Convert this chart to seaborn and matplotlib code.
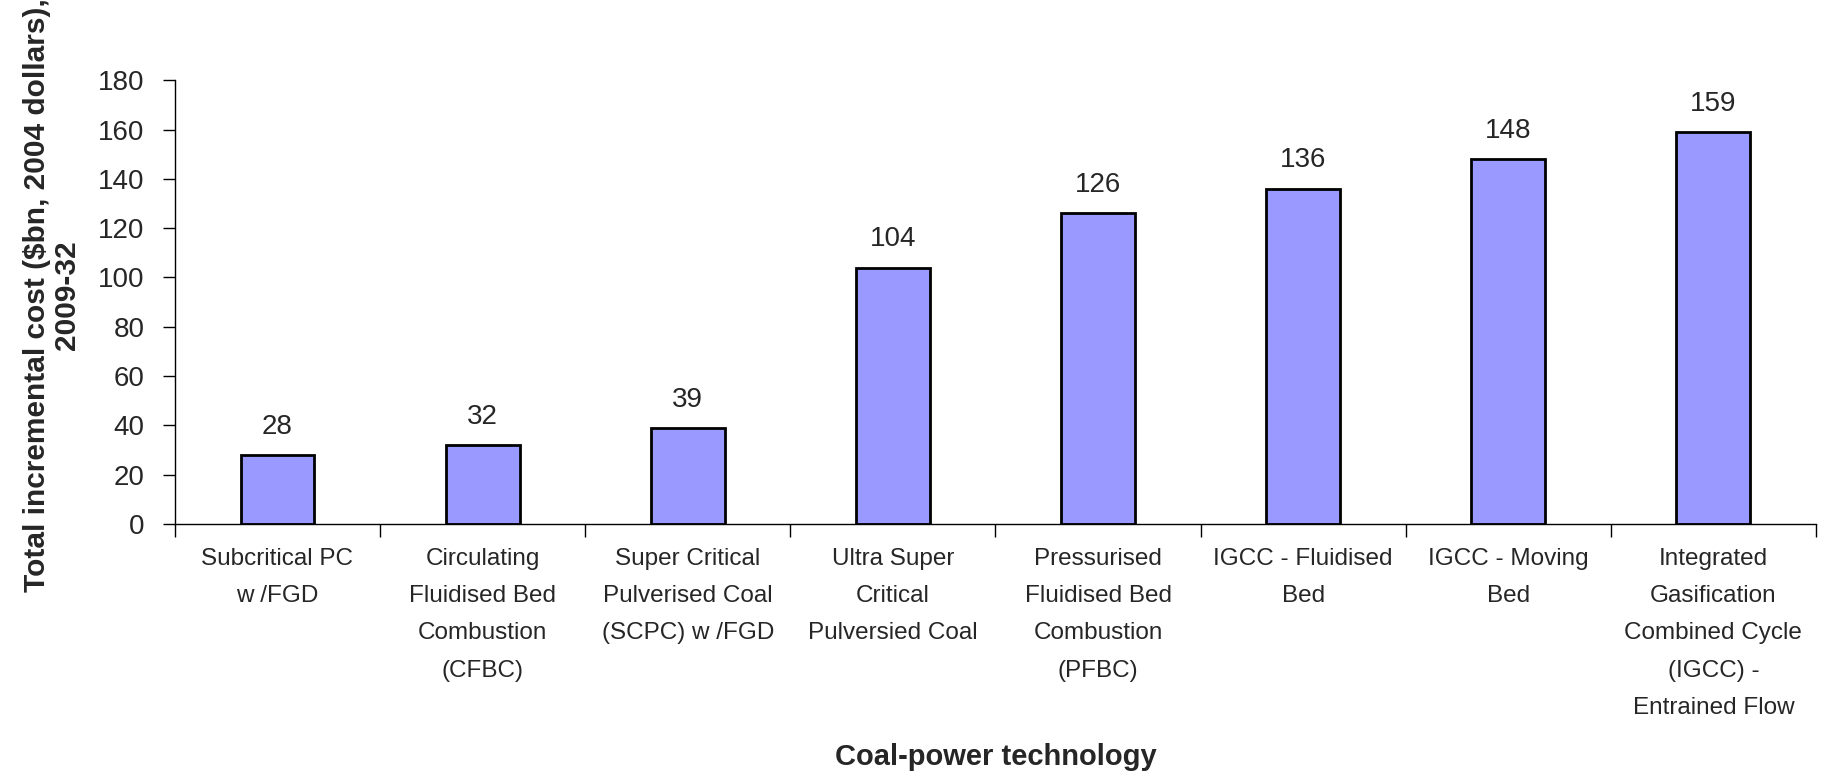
#!/usr/bin/env python3
# Incremental cost of coal-power technologies, 2009-32

import numpy as np
import pandas as pd
import seaborn as sns
import matplotlib.pyplot as plt
from matplotlib.ticker import FixedLocator, MultipleLocator

technologies = [
    "Subcritical PC\nw /FGD",
    "Circulating\nFluidised Bed\nCombustion\n(CFBC)",
    "Super Critical\nPulverised Coal\n(SCPC) w /FGD",
    "Ultra Super\nCritical\nPulversied Coal",
    "Pressurised\nFluidised Bed\nCombustion\n(PFBC)",
    "IGCC - Fluidised\nBed",
    "IGCC - Moving\nBed",
    "Integrated\nGasification\nCombined Cycle\n(IGCC) -\nEntrained Flow",
]
cost = [28, 32, 39, 104, 126, 136, 148, 159]

sns.set_style("white")
plt.rcParams['font.family'] = ['Liberation Sans', 'DejaVu Sans']

data = pd.DataFrame({"tech": technologies, "cost": cost})

fig = plt.figure(figsize=(18.26, 7.79), dpi=100)
ax = fig.add_axes([0.0958, 0.3273, 0.8987, 0.5697])

sns.barplot(data=data, x="tech", y="cost", color="#9999FF", saturation=1,
            edgecolor="black", linewidth=2, width=0.36, ax=ax)

ax.bar_label(ax.containers[0], fmt="%d", padding=11, fontsize=20)

ax.set_ylim(0, 180)
ax.set_xlim(-0.5, len(cost) - 0.5)
ax.yaxis.set_major_locator(MultipleLocator(20))

# ticks sit between the categories, labels in the middle
ax.set_xticks(range(len(cost)), technologies, linespacing=1.9, fontsize=17.5)
ax.xaxis.set_minor_locator(FixedLocator(np.arange(-0.5, len(cost), 1.0)))
ax.tick_params(axis="x", which="major", length=0, pad=17)
ax.tick_params(axis="x", which="minor", length=9, width=1, color="black", direction="out", bottom=True)
ax.tick_params(axis="y", length=9, width=1, color="black", direction="out", left=True, labelsize=20, pad=13)

for side in ["top", "right"]:
    ax.spines[side].set_visible(False)
for side in ["left", "bottom"]:
    ax.spines[side].set_color("black")
    ax.spines[side].set_linewidth(1)

ax.set_xlabel("Coal-power technology", fontsize=21, fontweight="bold", va="top")
ax.set_ylabel("Total incremental cost ($bn, 2004 dollars),\n2009-32", fontsize=21.5,
              fontweight="bold", linespacing=1.1)
ax.xaxis.set_label_coords(0.5, -0.493)
ax.yaxis.set_label_coords(-0.057, 0.516)

plt.savefig("out.png", dpi=100)
